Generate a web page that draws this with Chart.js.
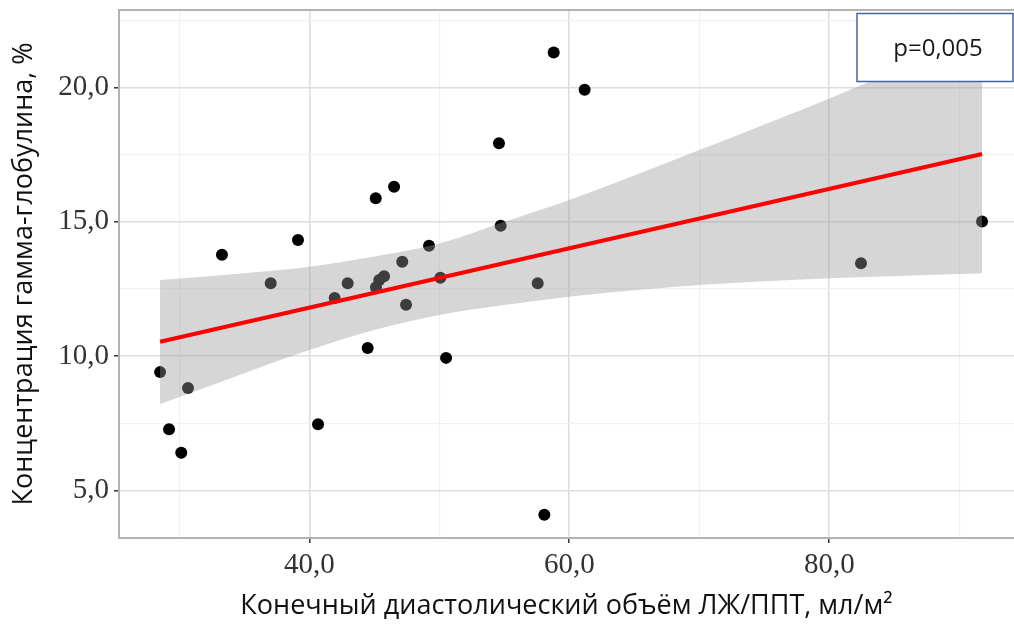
<!DOCTYPE html>
<html>
<head>
<meta charset="utf-8">
<script src="https://cdn.jsdelivr.net/npm/chart.js@4/dist/chart.umd.min.js"></script>
<style>
  html, body { margin: 0; padding: 0; background: #ffffff; }
  #wrap { width: 1014px; height: 626px; position: relative; }
</style>
</head>
<body>
<div id="wrap"><canvas id="c" width="1014" height="626"></canvas></div>
<script>
// ---- data ----
const pointsX = [28.52, 30.67, 29.21, 30.15, 33.28, 37.03, 39.13, 40.67, 41.95, 42.95,
                 44.49, 45.11, 45.13, 45.38, 45.75, 46.52, 47.15, 47.44, 49.21, 50.08,
                 50.52, 54.59, 54.72, 57.57, 58.08, 58.80, 61.18, 82.44, 91.75];
const pointsY = [9.40, 8.81, 7.27, 6.40, 13.77, 12.71, 14.32, 7.46, 12.16, 12.71,
                 10.30, 15.87, 12.56, 12.83, 12.97, 16.30, 13.51, 11.91, 14.10, 12.91,
                 9.93, 17.92, 14.85, 12.71, 4.09, 21.30, 19.91, 13.45, 15.01];

const fitX = [28.52, 91.75];
const fitY = [10.53, 17.52];

const bandX     = [28.52, 35.0, 40.0, 45.0, 50.0, 55.0, 60.0, 70.0, 80.0, 91.75];
const bandUpper = [12.83, 13.08, 13.32, 13.70, 14.19, 15.00, 15.81, 17.67, 19.59, 22.00];
const bandLower = [8.21, 9.36, 10.22, 10.97, 11.53, 11.90, 12.21, 12.64, 12.89, 13.08];

const xMajorTicks = [40, 60, 80];
const xMajorLabels = ['40,0', '60,0', '80,0'];
const xMinorTicks = [30, 50, 70, 90];
const yMajorTicks = [5, 10, 15, 20];
const yMajorLabels = ['5,0', '10,0', '15,0', '20,0'];
const yMinorTicks = [7.5, 12.5, 17.5, 22.5];

const xTitle = 'Конечный диастолический объём ЛЖ/ППТ, мл/м²';
const yTitle = 'Концентрация гамма-глобулина, %';
const pText = 'p=0,005';

const xRange = [25.36, 94.21];
const yRange = [3.225, 22.88];
// ------------------------------------------------

const zip = (xs, ys) => xs.map((x, i) => ({ x: x, y: ys[i] }));

function buildTicks(major, minor) {
  const t = major.map(v => ({ value: v, major: true }))
    .concat(minor.map(v => ({ value: v, major: false })));
  t.sort((a, b) => a.value - b.value);
  return t;
}

const pBoxPlugin = {
  id: 'pbox',
  afterDraw(chart) {
    const ctx = chart.ctx;
    const a = chart.chartArea;
    ctx.save();
    // top frame line (plot panel border)
    ctx.strokeStyle = '#b3b3b3';
    ctx.lineWidth = 2;
    ctx.beginPath();
    ctx.moveTo(a.left - 1, a.top);
    ctx.lineTo(chart.width, a.top);
    ctx.stroke();
    // p-value box
    const bx = 857, by = 13.5, bw = 156, bh = 68;
    ctx.fillStyle = '#ffffff';
    ctx.fillRect(bx, by, bw, bh);
    ctx.strokeStyle = '#41659f';
    ctx.lineWidth = 1.5;
    ctx.strokeRect(bx, by, bw, bh);
    ctx.fillStyle = '#1a1a1a';
    ctx.font = '24px "Open Sans", sans-serif';
    ctx.textAlign = 'center';
    ctx.textBaseline = 'middle';
    ctx.fillText(pText, bx + bw / 2 + 3, by + bh / 2 + 2);
    ctx.restore();
  }
};

const tickFont = { family: '"Liberation Serif", "DejaVu Serif", serif', size: 29 };
const titleFont = { family: '"Open Sans", "Noto Sans", sans-serif', size: 27 };

new Chart(document.getElementById('c'), {
  type: 'scatter',
  data: {
    datasets: [
      {
        label: 'points',
        type: 'scatter',
        data: zip(pointsX, pointsY),
        backgroundColor: '#000000',
        borderWidth: 0,
        pointRadius: 6,
        pointHoverRadius: 6,
        order: 3
      },
      {
        label: 'upper',
        type: 'line',
        data: zip(bandX, bandUpper),
        borderWidth: 0,
        borderColor: 'rgba(0,0,0,0)',
        pointRadius: 0,
        fill: '+1',
        backgroundColor: 'rgba(153,153,153,0.4)',
        cubicInterpolationMode: 'monotone',
        order: 2
      },
      {
        label: 'lower',
        type: 'line',
        data: zip(bandX, bandLower),
        borderWidth: 0,
        borderColor: 'rgba(0,0,0,0)',
        pointRadius: 0,
        fill: false,
        cubicInterpolationMode: 'monotone',
        order: 2
      },
      {
        label: 'fit',
        type: 'line',
        data: zip(fitX, fitY),
        borderColor: '#ff0000',
        borderWidth: 4,
        pointRadius: 0,
        fill: false,
        order: 1
      }
    ]
  },
  options: {
    responsive: false,
    animation: false,
    events: [],
    layout: { autoPadding: false, padding: { top: 10, right: 0, left: 0, bottom: 0 } },
    plugins: {
      legend: { display: false },
      tooltip: { enabled: false },
      filler: { drawTime: 'beforeDatasetDraw' }
    },
    scales: {
      x: {
        type: 'linear',
        position: 'bottom',
        min: xRange[0],
        max: xRange[1],
        afterBuildTicks: s => { s.ticks = buildTicks(xMajorTicks, xMinorTicks); },
        afterFit: s => { s.height = 88; s.paddingLeft = 0; s.paddingRight = 0; },
        ticks: {
          autoSkip: false,
          maxRotation: 0,
          color: '#333333',
          font: tickFont,
          padding: 5,
          callback: function (v) {
            const i = xMajorTicks.indexOf(v);
            return i >= 0 ? xMajorLabels[i] : '';
          }
        },
        grid: {
          color: c => (c.tick && c.tick.major) ? '#dedede' : '#f1f1f1',
          lineWidth: c => (c.tick && c.tick.major) ? 1.6 : 1.2,
          tickColor: c => (c.tick && c.tick.major) ? '#333333' : 'rgba(0,0,0,0)',
          tickLength: 5,
          tickWidth: 1.5
        },
        border: { color: '#b3b3b3', width: 2 },
        title: {
          display: true,
          text: xTitle,
          color: '#111111',
          font: titleFont,
          padding: { top: 0, bottom: 3 }
        }
      },
      y: {
        type: 'linear',
        position: 'left',
        min: yRange[0],
        max: yRange[1],
        afterBuildTicks: s => { s.ticks = buildTicks(yMajorTicks, yMinorTicks); },
        afterFit: s => { s.width = 119; s.paddingTop = 0; s.paddingBottom = 0; },
        ticks: {
          autoSkip: false,
          color: '#333333',
          font: tickFont,
          padding: 5,
          callback: function (v) {
            const i = yMajorTicks.indexOf(v);
            return i >= 0 ? yMajorLabels[i] : '';
          }
        },
        grid: {
          color: c => (c.tick && c.tick.major) ? '#dedede' : '#f1f1f1',
          lineWidth: c => (c.tick && c.tick.major) ? 1.6 : 1.2,
          tickColor: c => (c.tick && c.tick.major) ? '#333333' : 'rgba(0,0,0,0)',
          tickLength: 5,
          tickWidth: 1.5
        },
        border: { color: '#b3b3b3', width: 2 },
        title: {
          display: true,
          text: yTitle,
          color: '#111111',
          font: titleFont,
          padding: { top: 8, bottom: 0 }
        }
      }
    }
  },
  plugins: [pBoxPlugin]
});
</script>
</body>
</html>
